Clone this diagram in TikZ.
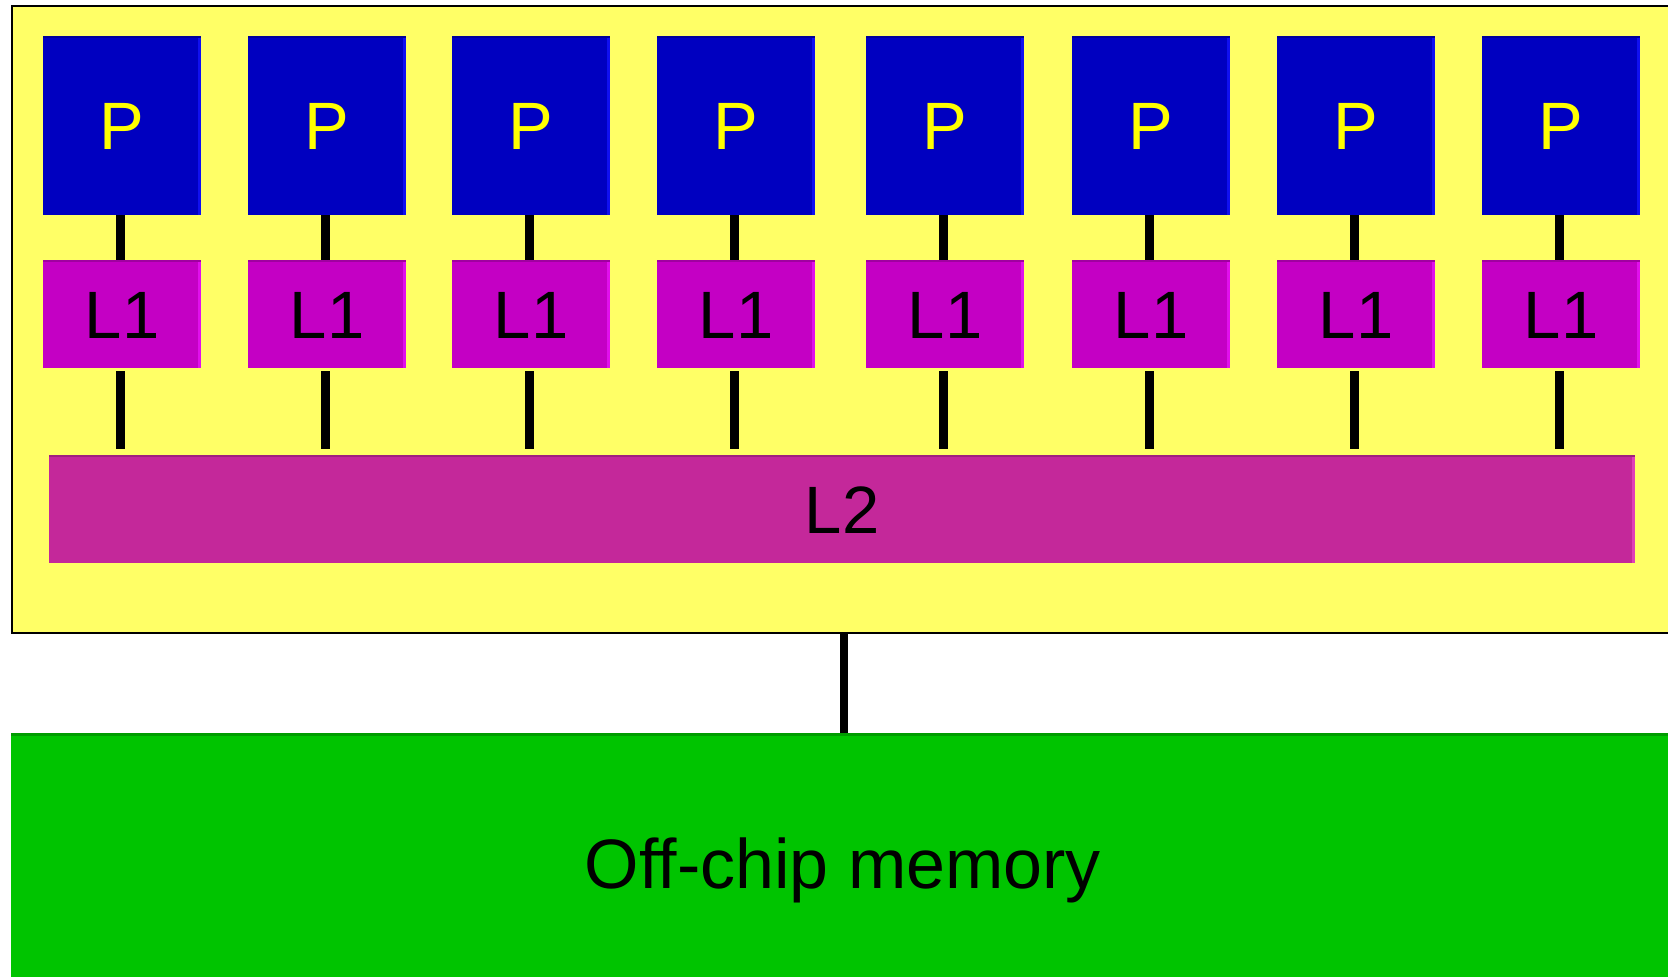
\documentclass[tikz,border=0pt]{standalone}
\usepackage{fontspec}
\setmainfont{Liberation Sans}
\definecolor{chipyellow}{HTML}{FFFF66}
\definecolor{pblue}{HTML}{0000C0}
\definecolor{pblueedge}{HTML}{1010F0}
\definecolor{pbluetop}{HTML}{000099}
\definecolor{lonemag}{HTML}{C400C4}
\definecolor{lonemagedge}{HTML}{E010EC}
\definecolor{lonemagtop}{HTML}{A000A0}
\definecolor{ltwomag}{HTML}{C4289A}
\definecolor{ltwoedge}{HTML}{E040B8}
\definecolor{ltwotop}{HTML}{A0207E}
\definecolor{memgreen}{HTML}{00C400}
\definecolor{memtop}{HTML}{009C00}
\definecolor{ptext}{HTML}{FFFF00}
\begin{document}
\begin{tikzpicture}[x=1pt,y=-1pt,
  bevel/.style n args={2}{path picture={
      \fill[#1] ([xshift=-3.5pt]path picture bounding box.north east) rectangle (path picture bounding box.south east);
      \fill[#2] (path picture bounding box.north west) rectangle ([yshift=-2pt]path picture bounding box.north east);}},
  box/.style={rectangle, inner sep=0pt, anchor=north west, text height=48pt, text depth=0pt,
      font=\fontsize{67}{80}\selectfont},
  pbox/.style={box, fill=pblue, minimum width=158pt, minimum height=179pt, text=ptext, bevel={pblueedge}{pbluetop}},
  lonebox/.style={box, fill=lonemag, minimum width=158pt, minimum height=108pt, text=black, bevel={lonemagedge}{lonemagtop}},
  ltwobox/.style={box, fill=ltwomag, minimum width=1586pt, minimum height=108pt, text=black, bevel={ltwoedge}{ltwotop}},
  chipbox/.style={rectangle, anchor=north west, fill=chipyellow, draw=black, line width=1.5pt, minimum width=1700pt, minimum height=627pt},
  membox/.style={rectangle, anchor=north west, fill=memgreen, minimum width=1700pt, minimum height=300pt,
      path picture={\fill[memtop] (path picture bounding box.north west) rectangle ([yshift=-2.5pt]path picture bounding box.north east);}},
  memtext/.style={inner sep=0pt, anchor=base, text=black, font=\fontsize{70}{84}\selectfont},
  conn/.style={draw=black, line width=9pt}
]
\useasboundingbox (0,0) rectangle (1668,977);
\clip (0,0) rectangle (1668,977);
\fill[white] (0,0) rectangle (1668,977);
\node[chipbox] (chip) at (11,5) {};
\node[membox] (mem) at (11,733) {};
\node[memtext] (memlabel) at (843,888) {Off-chip memory};
\node[ltwobox] (L2) at (49,455) {L2};
\foreach \i/\x in {1/43,2/248,3/452,4/657,5/866,6/1072,7/1277,8/1482} {
  \node[pbox] (P\i) at (\x,36) {P};
  \node[lonebox] (La\i) at (\x,260) {L1};
  \draw[conn] ([xshift=-1.5pt]P\i.south) -- ([xshift=-1.5pt]La\i.north);
  \draw[conn, shorten <=3pt, shorten >=6pt] ([xshift=-1.5pt]La\i.south) -- ([xshift=-1.5pt]La\i.south |- L2.north);
}
\coordinate (memx) at (844,0);
\draw[conn, line width=8.5pt] (chip.south -| memx) -- (mem.north -| memx);
\end{tikzpicture}
\end{document}
